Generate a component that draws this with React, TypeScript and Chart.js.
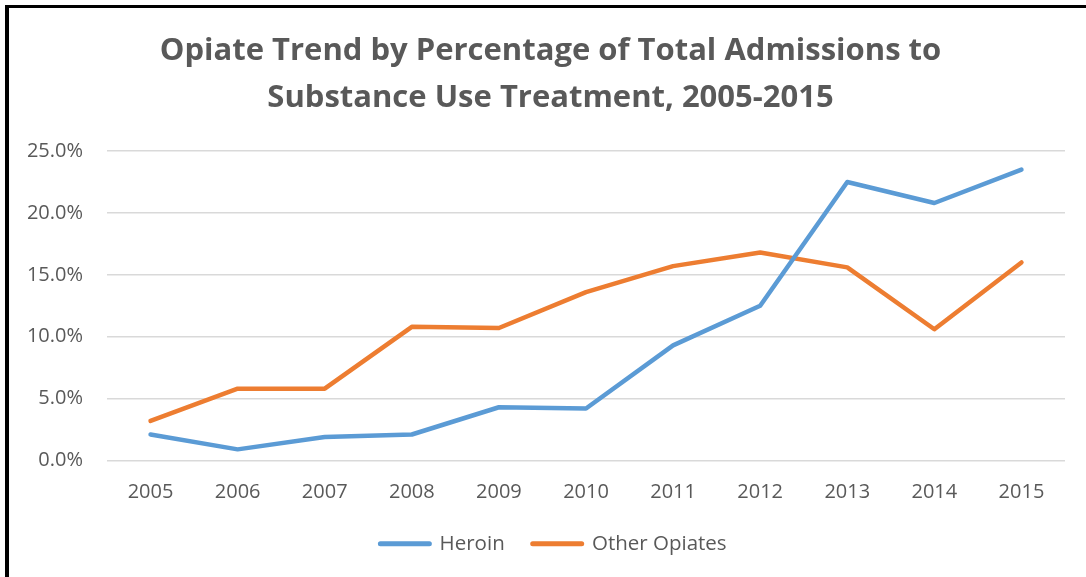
import React, { useEffect, useRef } from "react";
import { Chart, registerables } from "chart.js";

Chart.register(...registerables);

const years = ["2005", "2006", "2007", "2008", "2009", "2010", "2011", "2012", "2013", "2014", "2015"];
const heroin = [2.1, 0.9, 1.9, 2.1, 4.3, 4.2, 9.3, 12.5, 22.5, 20.8, 23.5];
const otherOpiates = [3.2, 5.8, 5.8, 10.8, 10.7, 13.6, 15.7, 16.8, 15.6, 10.6, 16.0];
const titleLines = ["Opiate Trend by Percentage of Total Admissions to", "Substance Use Treatment, 2005-2015"];
const seriesNames = ["Heroin", "Other Opiates"];

const FONT = "'Open Sans', sans-serif";
const GREY = "#595959";

// Nudges title/legend boxes (Excel-like placement) and keeps legend compact vertically.
const shiftBoxes = {
  id: "shiftBoxes",
  beforeLayout(chart: any) {
    const lg = chart.legend;
    if (lg && !lg._compactPatched) {
      const fit = lg.fit.bind(lg);
      lg.fit = function () {
        fit();
        this.height -= 18;
      };
      lg._compactPatched = true;
    }
  },
  afterLayout(chart: any) {
    if (chart.titleBlock) chart.titleBlock.left += 18;
    if (chart.legend) {
      chart.legend.left += 24;
      chart.legend.top -= 19;
    }
  },
};

export default function App() {
  const ref = useRef<HTMLCanvasElement>(null);
  useEffect(() => {
    if (!ref.current) return;
    const chart = new Chart(ref.current, {
      type: "line",
      data: {
        labels: years,
        datasets: [
          { label: seriesNames[0], data: heroin, borderColor: "#5B9BD5", backgroundColor: "#5B9BD5", borderWidth: 4.5, pointRadius: 0, borderCapStyle: "round", borderJoinStyle: "round", tension: 0 },
          { label: seriesNames[1], data: otherOpiates, borderColor: "#ED7D31", backgroundColor: "#ED7D31", borderWidth: 4.5, pointRadius: 0, borderCapStyle: "round", borderJoinStyle: "round", tension: 0 },
        ],
      },
      plugins: [shiftBoxes],
      options: {
        animation: false,
        responsive: false,
        layout: { padding: { left: 18, right: 21, top: 18, bottom: 12 } },
        plugins: {
          title: {
            display: true,
            text: titleLines,
            color: GREY,
            font: { family: FONT, size: 31, weight: "bold", lineHeight: "47px" },
            padding: { top: 10, bottom: 29 },
          },
          legend: {
            position: "bottom",
            labels: {
              font: { family: FONT, size: 20.5 },
              color: GREY,
              boxWidth: 49,
              padding: 28,
              generateLabels: (c: any) =>
                c.data.datasets.map((d: any, i: number) => ({
                  text: d.label,
                  fillStyle: d.borderColor,
                  strokeStyle: d.borderColor,
                  lineWidth: 5,
                  lineJoin: "round",
                  lineCap: "round",
                  fontColor: GREY,
                  datasetIndex: i,
                  hidden: false,
                })),
              boxHeight: 0,
            },
          },
          tooltip: { enabled: false },
        },
        scales: {
          x: {
            offset: true,
            grid: { display: false, drawTicks: false },
            border: { display: false },
            ticks: { color: GREY, font: { family: FONT, size: 20 }, padding: 20 },
          },
          y: {
            min: 0,
            max: 25,
            grid: { color: "#D9D9D9", lineWidth: 1.5, drawTicks: false },
            border: { display: false },
            ticks: {
              stepSize: 5,
              color: GREY,
              font: { family: FONT, size: 20 },
              padding: 24,
              callback: (v: any) => Number(v).toFixed(1) + "%",
            },
            afterFit: (s: any) => {
              s.width = 107 - 18;
            },
          },
        },
      } as any,
    });
    return () => chart.destroy();
  }, []);
  return (
    <div style={{ position: "absolute", left: 0, top: 0, width: 1086, height: 577, background: "#fff" }}>
      <canvas ref={ref} width={1086} height={577} style={{ position: "absolute", left: 0, top: 0 }} />
      <div style={{ position: "absolute", left: 5, top: 5, width: 1081, height: 572, borderTop: "3px solid #000", borderLeft: "4px solid #000", boxSizing: "border-box", pointerEvents: "none" }} />
    </div>
  );
}
